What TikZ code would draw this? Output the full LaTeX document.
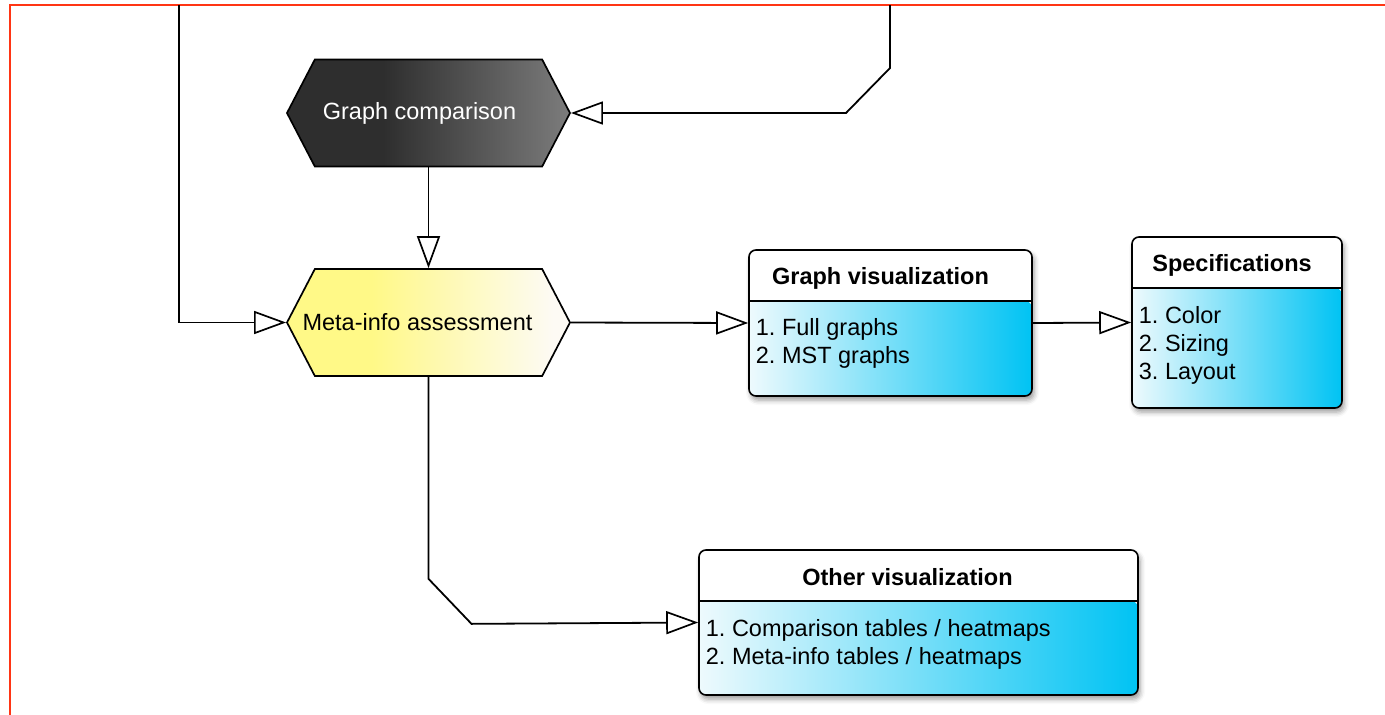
\documentclass[tikz,border=0pt]{standalone}
\usepackage{fontspec}
\setmainfont{Liberation Sans}
\usetikzlibrary{shapes.symbols,arrows.meta,shadows.blur}
\frenchspacing

\definecolor{framered}{HTML}{FF3514}
\definecolor{gcdark}{HTML}{2E2E2E}
\definecolor{gclight}{HTML}{7C7C7C}
\definecolor{miyellow}{HTML}{FFF987}
\definecolor{mipale}{HTML}{FDFAF4}
\definecolor{bodylo}{HTML}{EEFAFD}
\definecolor{bodyhi}{HTML}{00C3F3}

\pgfdeclarehorizontalshading{gcshade}{100bp}{color(0bp)=(gcdark); color(25bp)=(gcdark); color(42bp)=(gcdark); color(75bp)=(gclight); color(100bp)=(gclight)}
\pgfdeclarehorizontalshading{mishade}{100bp}{color(0bp)=(miyellow); color(25bp)=(miyellow); color(40bp)=(miyellow); color(72bp)=(mipale); color(100bp)=(mipale)}

\newcommand{\txtsize}{\fontsize{23.5}{28}\selectfont}

\tikzset{
  frame/.style={draw=framered, line width=2.4pt},
  conn/.style={line width=1.8pt, line join=miter,
    -{Triangle[length=32pt,width=23pt,fill=white,line width=1.7pt]}},
  hexa/.style={signal, signal to=west and east, signal pointer angle=125,
    draw, line width=1.7pt, minimum width=283pt, minimum height=107pt,
    inner sep=0pt, font=\txtsize},
  vbox/.style={draw, line width=1.6pt, rounded corners=7pt, fill=white,
    blur shadow={shadow xshift=2pt, shadow yshift=-4pt, shadow blur radius=5pt},
    path picture={
      \shade[left color=bodylo, right color=bodyhi]
        ([yshift=-51pt]path picture bounding box.north west) rectangle (path picture bounding box.south east);
      \draw[line width=1.6pt] ([yshift=-51pt]path picture bounding box.north west)
        -- ([yshift=-51pt]path picture bounding box.north east);
    }},
  boxtitle/.style={font=\txtsize\bfseries, inner sep=0pt},
  boxitems/.style={font=\txtsize, align=left, anchor=north west, inner sep=0pt},
}

\begin{document}
\begin{tikzpicture}[x=1pt,y=-1pt]
\useasboundingbox (0,0) rectangle (1385,715);
%frame
\draw[frame] (10,715) -- (10,5) -- (1385,5);

%process steps
\node[hexa, shading=gcshade, text=white] (gc) at (428.5,113) {\hspace*{-18pt}Graph comparison};
\node[hexa, shading=mishade] (mi) at (428.5,322.5) {\hspace*{-22pt}Meta-info assessment};

%output boxes
\node[vbox, minimum width=283pt, minimum height=146pt] (gv) at (890.5,323) {};
\node[vbox, minimum width=210pt, minimum height=171pt] (spec) at (1237,322.5) {};
\node[vbox, minimum width=439pt, minimum height=145pt] (ov) at (918.5,622.5) {};

%titles
\node[boxtitle] (gvtitle) at ([xshift=-10pt,yshift=-29pt]gv.north) {Graph visualization};
\node[boxtitle] (spectitle) at ([xshift=-5pt,yshift=-29pt]spec.north) {Specifications};
\node[boxtitle] (ovtitle) at ([xshift=-11pt,yshift=-28pt]ov.north) {Other visualization};

%items
\node[boxitems] (gvitems) at ([xshift=7.5pt,yshift=-69pt]gv.north west) {1. Full graphs\\2. MST graphs};
\node[boxitems] (specitems) at ([xshift=7.5pt,yshift=-70pt]spec.north west) {1. Color\\2. Sizing\\3. Layout};
\node[boxitems] (ovitems) at ([xshift=7.5pt,yshift=-70pt]ov.north west) {1. Comparison tables / heatmaps\\2. Meta-info tables / heatmaps};

%connectors
\coordinate (lefttop) at (179,5);
\coordinate (righttop) at (890,5);
\draw[conn] (lefttop) |- (mi.west);
\draw[conn] (righttop) -- ++(0,63) -- ++(-44,45) -- (gc.east);
\draw[conn] (gc.south) -- (mi.north);
\draw[conn] (mi.east) -- (gv.west);
\draw[conn] (gv.east) -- (spec.west);
\draw[conn] (mi.south) -- ++(0,202) -- ++(43,45) -- (ov.west);
\end{tikzpicture}
\end{document}
